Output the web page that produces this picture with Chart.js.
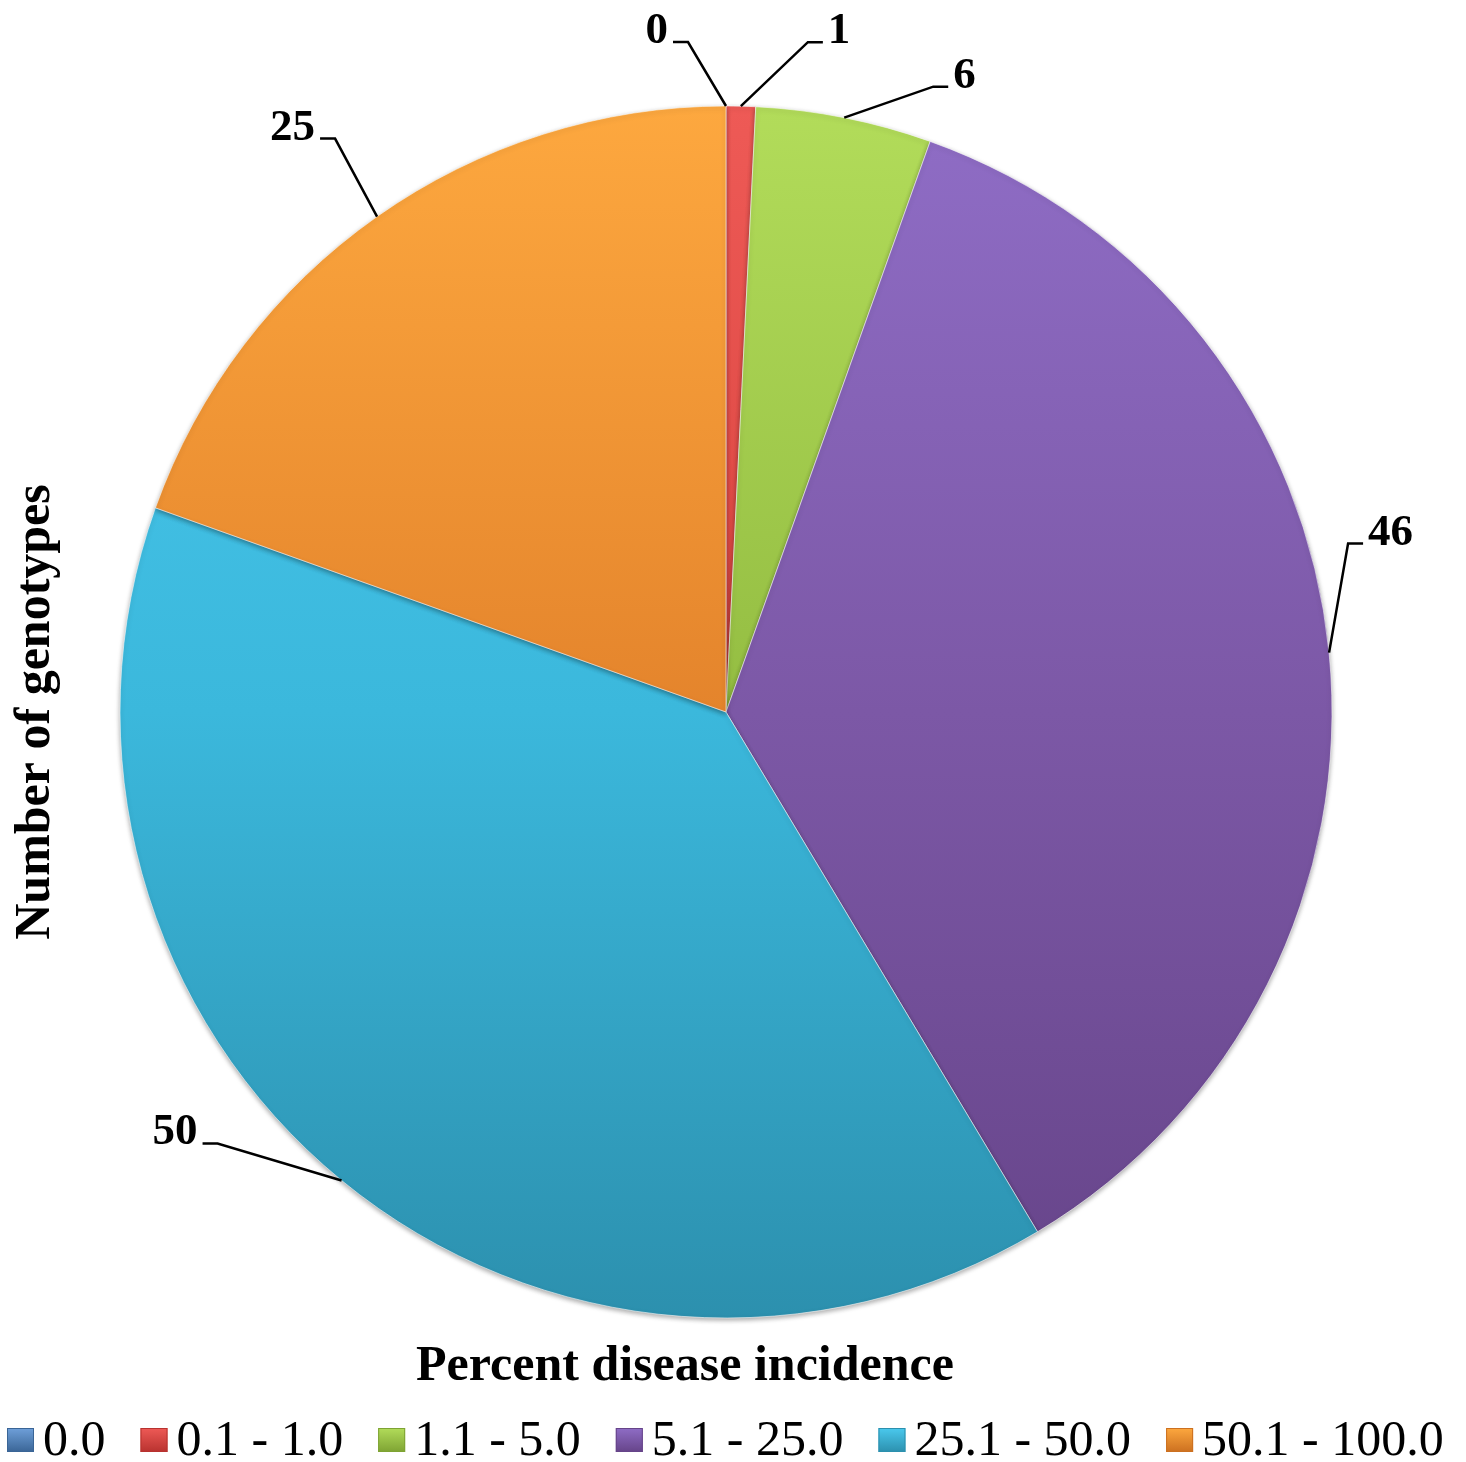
<!DOCTYPE html>
<html>
<head>
<meta charset="utf-8">
<title>Percent disease incidence</title>
<script src="https://cdn.jsdelivr.net/npm/chart.js@4.4.1/dist/chart.umd.min.js"></script>
<style>
  html, body { margin: 0; padding: 0; background: #ffffff; }
  #wrap { width: 1466px; height: 1462px; position: relative; }
</style>
</head>
<body>
<div id="wrap"><canvas id="pie-chart"></canvas></div>
<script>
// data
const categories = ['0.0', '0.1 - 1.0', '1.1 - 5.0', '5.1 - 25.0', '25.1 - 50.0', '50.1 - 100.0'];
const genotypeCounts = [0, 1, 6, 46, 50, 25];
const xTitle = 'Percent disease incidence';
const yTitle = 'Number of genotypes';

// styling
const colorTop = ['#6fa0da', '#ee5a56', '#b2dc5a', '#8f6dc6', '#4ac9ee', '#fda83f'];
const colorMid = ['#4f81bd', '#d9443f', '#94bd42', '#7c58a6', '#3bb8dc', '#e4842c'];
const colorBottom = ['#3a6596', '#b8322f', '#7ea333', '#664489', '#2c90ae', '#cc7020'];
const serif = "'Liberation Serif', 'Times New Roman', serif";
// elbow of each leader line, relative to the slice's outer edge point
const labelOffsets = [[-38, -64, 'left'], [67, -64, 'right'], [89, -31, 'right'],
                      [19, -109, 'right'], [-124, -37, 'left'], [-42, -78, 'left']];

function sliceFill(context) {
    const chart = context.chart;
    const area = chart.chartArea;
    const i = context.dataIndex;
    if (!area) return colorMid[i];
    const cy = (area.top + area.bottom) / 2;
    const r = 606;
    const g = chart.ctx.createLinearGradient(0, cy - r, 0, cy + r);
    g.addColorStop(0, colorTop[i]);
    g.addColorStop(0.5, colorMid[i]);
    g.addColorStop(1, colorBottom[i]);
    return g;
}

const shadowPlugin = {
    id: 'shadow',
    beforeDatasetDraw(chart) {
        const ctx = chart.ctx;
        ctx.save();
        ctx.shadowColor = 'rgba(0,0,0,0.35)';
        ctx.shadowBlur = 5;
        ctx.shadowOffsetY = 2;
    },
    afterDatasetDraw(chart) {
        chart.ctx.restore();
    }
};

const labelPlugin = {
    id: 'leaderLabels',
    afterDatasetsDraw(chart) {
        const ctx = chart.ctx;
        const arcs = chart.getDatasetMeta(0).data;
        ctx.save();
        ctx.strokeStyle = '#000';
        ctx.lineWidth = 2.5;
        ctx.fillStyle = '#000';
        ctx.font = 'bold 45px ' + serif;
        ctx.textBaseline = 'alphabetic';
        arcs.forEach((arc, i) => {
            const p = arc.getProps(['x', 'y', 'startAngle', 'endAngle', 'outerRadius'], true);
            const mid = (p.startAngle + p.endAngle) / 2;
            const ex = p.x + Math.cos(mid) * p.outerRadius;
            const ey = p.y + Math.sin(mid) * p.outerRadius;
            const [dx, dy, side] = labelOffsets[i];
            const bx = ex + dx;
            const by = ey + dy;
            const dir = side === 'right' ? 1 : -1;
            ctx.beginPath();
            ctx.moveTo(ex, ey);
            ctx.lineTo(bx, by);
            ctx.lineTo(bx + dir * 15, by);
            ctx.stroke();
            ctx.textAlign = side === 'right' ? 'left' : 'right';
            ctx.fillText(String(genotypeCounts[i]), bx + dir * 20, by + 1);
        });
        ctx.restore();
    }
};

const titlesLegendPlugin = {
    id: 'titlesLegend',
    afterDraw(chart) {
        const ctx = chart.ctx;
        ctx.save();
        ctx.fillStyle = '#000';
        ctx.font = 'bold 50px ' + serif;
        ctx.textAlign = 'center';
        ctx.textBaseline = 'alphabetic';
        ctx.fillText(xTitle, 685, 1380);

        ctx.save();
        ctx.translate(49, 712);
        ctx.rotate(-Math.PI / 2);
        ctx.fillText(yTitle, 0, 0);
        ctx.restore();

        // legend row
        ctx.font = '50px ' + serif;
        ctx.textAlign = 'left';
        let x = 7;
        chart.data.labels.forEach((label, i) => {
            const g = ctx.createLinearGradient(0, 1428, 0, 1452);
            g.addColorStop(0, colorTop[i]);
            g.addColorStop(1, colorBottom[i]);
            ctx.fillStyle = g;
            ctx.fillRect(x, 1428, 27, 24);
            ctx.strokeStyle = colorBottom[i];
            ctx.lineWidth = 1;
            ctx.strokeRect(x + 0.5, 1428.5, 26, 23);
            ctx.fillStyle = '#000';
            ctx.fillText(label, x + 36, 1455);
            x += 36 + ctx.measureText(label).width + 35;
        });
        ctx.restore();
    }
};

new Chart(document.getElementById('pie-chart').getContext('2d'), {
    type: 'pie',
    data: {
        labels: categories,
        datasets: [{
            label: yTitle,
            data: genotypeCounts,
            backgroundColor: sliceFill,
            borderColor: 'rgba(255,255,255,0.55)',
            borderWidth: 1,
            radius: 606,
            clip: false
        }]
    },
    options: {
        responsive: true,
        maintainAspectRatio: false,
        animation: false,
        events: [],
        layout: { padding: { left: 0, right: 14, top: 0, bottom: 38 } },
        plugins: {
            legend: { display: false },
            title: { display: false },
            tooltip: { enabled: false }
        }
    },
    plugins: [shadowPlugin, labelPlugin, titlesLegendPlugin]
});
</script>
</body>
</html>
